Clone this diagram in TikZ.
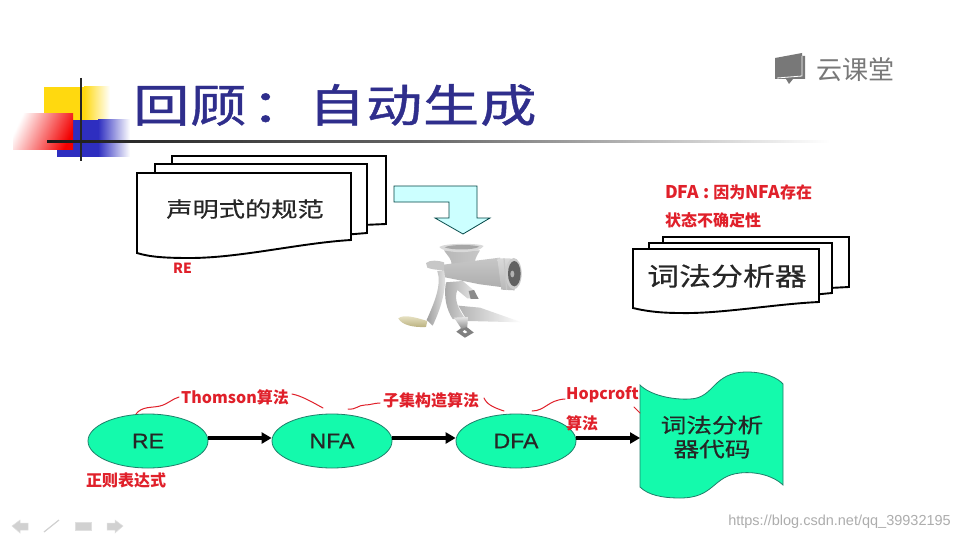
\documentclass[tikz,border=0pt]{standalone}
\usepackage{fontspec}
\setmainfont{Noto Sans CJK SC}
\newfontfamily\wide[FakeStretch=1.25,FakeBold=.5]{Noto Sans CJK SC}
\newfontfamily\titlefont[FakeStretch=1.25,FakeBold=1,LetterSpace=2]{Noto Sans CJK SC}
\newfontfamily\lat[FakeStretch=1.1,FakeBold=.5]{Liberation Sans}
\newfontfamily\plainlat{Liberation Sans}
\usetikzlibrary{arrows.meta,shapes.geometric}
\newcommand{\fs}[1]{\fontsize{#1}{#1}\selectfont}
\definecolor{titleblue}{HTML}{2F2E8C}
\definecolor{redmark}{HTML}{E0202A}
\definecolor{mint}{HTML}{14FAAC}
\definecolor{minted}{HTML}{1F7F6A}
\definecolor{pale}{HTML}{CCFFFF}
\definecolor{logogray}{HTML}{787878}
\definecolor{logoblue}{HTML}{2E2EC0}
\definecolor{logoyellow}{HTML}{FFD90F}
\definecolor{grip}{HTML}{D9CE92}
\tikzset{
 docsheet/.style={draw=black,fill=white,line width=1.9pt,line join=miter},
 state/.style={ellipse,draw=minted,fill=mint,line width=.8pt,minimum width=120pt,minimum height=54pt,inner sep=0pt,text=black!85,font=\lat\fs{21}},
 flow/.style={draw=black,line width=3.1pt,-{Triangle[length=10pt,width=11pt]},shorten >=0pt},
 note/.style={text=redmark,font=\bfseries\fs{16},inner sep=0pt,anchor=west},
 scribble/.style={draw=redmark,line width=1pt,line cap=round,line join=round},
 navicon/.style={fill=black!18,draw=black!12,line width=.5pt}
}
\begin{document}
\begin{tikzpicture}[x=1pt,y=-1pt]
\useasboundingbox (0,0) rectangle (960,540);
\fill[white] (0,0) rectangle (960,540);

% ---- template logo
\fill[logoyellow] (44,87) rectangle (84,140);
\shade[left color=logoyellow,right color=white] (84,87) rectangle (110,140);
\fill[logoblue] (57,120) rectangle (98,157);
\shade[left color=logoblue,right color=white] (98,120) rectangle (130,157);
\shade[left color=white,right color=red!95!black,shading angle=65] (13,114) rectangle (73,150);
\draw[line width=2.8pt,black!85] (81,78) -- (81,161);
\shade[left color=black!90,right color=black!60] (47,140.2) rectangle (420,142.6);
\shade[left color=black!60,right color=white] (420,140.2) rectangle (830,142.6);

% ---- title
\node[anchor=west,inner sep=0pt,text=titleblue,font=\titlefont\fs{45}] (title) at (133,105) {回顾\kern5pt：\kern1pt 自动生成};

% ---- platform mark
\fill[logogray] (775,58) -- (802,53) -- (802,56) -- (805,56) -- (805,79) -- (793,79) -- (789,84) -- (786,79) -- (775,79) -- cycle;
\draw[white,line width=.8pt] (802,56) -- (802,76) -- (777,78);
\node[text=logogray,font=\fs{26},inner sep=0pt] (brand) at (855,70) {云课堂};

% ---- left stack
\draw[docsheet] (172,156) -- (386,156) -- (386,224) -- (340,226) -- (172,226) -- cycle;
\draw[docsheet] (155,164) -- (367,164) -- (367,233) -- (330,236) -- (155,236) -- cycle;
\draw[docsheet] (137,173) -- (351,173) -- (351,240)
  .. controls (300,243) and (240,258) .. (190,258)
  .. controls (165,258) and (150,257) .. (137,253) -- cycle;
\node[font=\wide\fs{21},inner sep=0pt,text=black!85] (spec) at (245,209) {声明式的规范};
\node[note,font=\bfseries\fs{14}] (relabel) at (173,268) {RE};

% ---- hollow arrow
\draw[fill=pale,draw=black!45!teal,line width=.8pt,line join=miter]
  (394,186) -- (477,186) -- (477,218) -- (490,218) -- (463,234) -- (435,218) -- (449,218) -- (449,202) -- (394,202) -- cycle;

% ---- meat grinder
\begin{scope}[shift={(380,175)},x=.3333pt,y=-.3333pt]
 % table shadow and bar
 \shade[left color=black!30,right color=white] (235,392) -- (300,398) -- (425,442) -- (262,438) -- cycle;
 % stem and rear web
 \shade[left color=black!35,right color=black!6] (198,322) .. controls (190,365) and (200,405) .. (218,432) -- (258,434)
   .. controls (232,400) and (222,370) .. (232,345) -- (262,370) -- (296,372) -- (280,345) -- (248,318) -- cycle;
 \fill[black!45] (266,348) -- (282,345) -- (296,372) -- (272,372) -- cycle;
 % clamp screw and wing
 \draw[black!50,line width=3.5pt] (238,470) -- (254,458) -- (272,472) -- (255,482) -- cycle;
 \shade[top color=black!10,bottom color=black!45] (222,428) -- (264,426) -- (262,455) -- (245,462) -- cycle;
 % hopper neck
 \shade[left color=black!28,middle color=white,right color=black!22] (192,226) .. controls (205,245) and (215,252) .. (215,270) -- (284,268) .. controls (284,250) and (292,240) .. (300,226) -- cycle;
 % hopper rim
 \fill[black!15] (178,216) .. controls (190,204) and (300,204) .. (311,213) .. controls (300,236) and (195,238) .. (178,216) -- cycle;
 \fill[black!35] (194,217) .. controls (215,226) and (280,226) .. (298,215) .. controls (280,208) and (210,208) .. (194,217) -- cycle;
 % barrel
 \shade[top color=black!22,middle color=white,bottom color=black!32] (182,270) -- (360,248) -- (378,338) -- (300,328) -- (190,306) -- cycle;
 % collar
 \shade[top color=black!15,middle color=white,bottom color=black!28] (352,250) -- (392,250) -- (404,346) -- (364,344) -- cycle;
 \draw[black!22,line width=1.2pt] (372,250) -- (380,345);
 % die plate
 \fill[black!20] (401,296) ellipse [x radius=24,y radius=47];
 \fill[black!62] (403,296) ellipse [x radius=19,y radius=38];
 \fill[black!30] (397,297) ellipse [x radius=6,y radius=10];
 % crank
 \fill[black!22] (138,264) .. controls (150,254) and (175,256) .. (192,262) -- (192,286) .. controls (170,285) and (150,282) .. (142,278) -- cycle;
 \shade[left color=black!38,right color=black!8] (172,288) .. controls (186,330) and (162,385) .. (140,435)
   -- (158,452) .. controls (183,400) and (203,335) .. (192,286) -- cycle;
 % handle
 \shade[top color=grip!45!white,bottom color=grip!85!black] (55,430) .. controls (70,418) and (100,425) .. (142,438)
   -- (138,456) .. controls (100,458) and (65,450) .. (55,430) -- cycle;
\end{scope}

% ---- right stack
\draw[docsheet] (663,237) -- (849,237) -- (849,287) -- (810,289) -- (663,289) -- cycle;
\draw[docsheet] (649,243) -- (832,243) -- (832,293) -- (800,296) -- (649,296) -- cycle;
\draw[docsheet] (633,249) -- (819,249) -- (819,302)
  .. controls (775,304) and (720,314) .. (680,313)
  .. controls (660,313) and (645,311) .. (633,308) -- cycle;
\node[font=\wide\fs{25.5},inner sep=0pt,text=black!85] (lexer) at (727,276) {词法分析器};
\node[note] (dfanote) at (665,192) {{\fs{17.5}DFA : }因为{\fs{17.5}NFA}存在};
\node[note] (dfanoteb) at (665,220) {状态不确定性};

% ---- pipeline
\node[state] (re) at (148,441) {RE};
\node[state] (nfa) at (332,441) {NFA};
\node[state] (dfa) at (516,441) {DFA};
\path[fill=mint,draw=minted,line width=.8pt] (640,385)
  .. controls (650,395) and (672,400) .. (690,399)
  .. controls (715,398) and (712,372) .. (747,372)
  .. controls (765,372) and (778,378) .. (783,384)
  -- (783,485)
  .. controls (775,477) and (758,471) .. (740,473)
  .. controls (712,476) and (715,498) .. (680,498)
  .. controls (662,498) and (648,495) .. (640,487) -- cycle;
\coordinate (code) at (640,438);
\node[font=\wide\fontsize{20.5}{24}\selectfont,align=center,inner sep=0pt,text=black!85] (codelabel) at (712,437) {词法分析\\器代码};

\draw[flow] ([yshift=3pt]re.east) -- ([yshift=3pt]nfa.west);
\draw[flow] ([yshift=3pt]nfa.east) -- ([yshift=3pt]dfa.west);
\draw[flow] ([yshift=3pt]dfa.east) -- (code);

% ---- red annotations
\node[note] (thomson) at (181,397) {Thomson算法};
\node[note] (subset) at (383,400) {子集构造算法};
\node[note] (hop) at (566,395) {Hopcroft};
\node[note] (hopb) at (566,423) {算法};
\node[note] (regex) at (86,480) {正则表达式};
\draw[scribble] (136,414) .. controls (142,406) and (152,408) .. (160,406) .. controls (168,404) and (172,399) .. (179,397);
\draw[scribble] (292,394) .. controls (302,396) and (312,402) .. (323,408);
\draw[scribble] (348,409) .. controls (356,410) and (358,405) .. (365,405) .. controls (370,405) and (375,403) .. (380,403);
\draw[scribble] (484,398) .. controls (487,405) and (495,408) .. (504,411);
\draw[scribble] (532,411) .. controls (545,411) and (548,400) .. (565,399);
\draw[scribble] (634,407) -- (640,413);

% ---- slide controls
\fill[navicon] (12,526) -- (20,520) -- (20,523) -- (28,523) -- (28,530) -- (20,530) -- (20,533) -- cycle;
\draw[black!18,line width=1.2pt] (44,532) -- (59,520);
\fill[navicon] (75,522) rectangle (91,530);
\fill[navicon] (123,526) -- (115,520) -- (115,523) -- (107,523) -- (107,530) -- (115,530) -- (115,533) -- cycle;

% ---- watermark
\node[anchor=east,inner sep=0pt,text=black!32,font=\plainlat\fs{14.5}] (mark) at (951,522) {https://blog.csdn.net/qq\_39932195};
\end{tikzpicture}
\end{document}
